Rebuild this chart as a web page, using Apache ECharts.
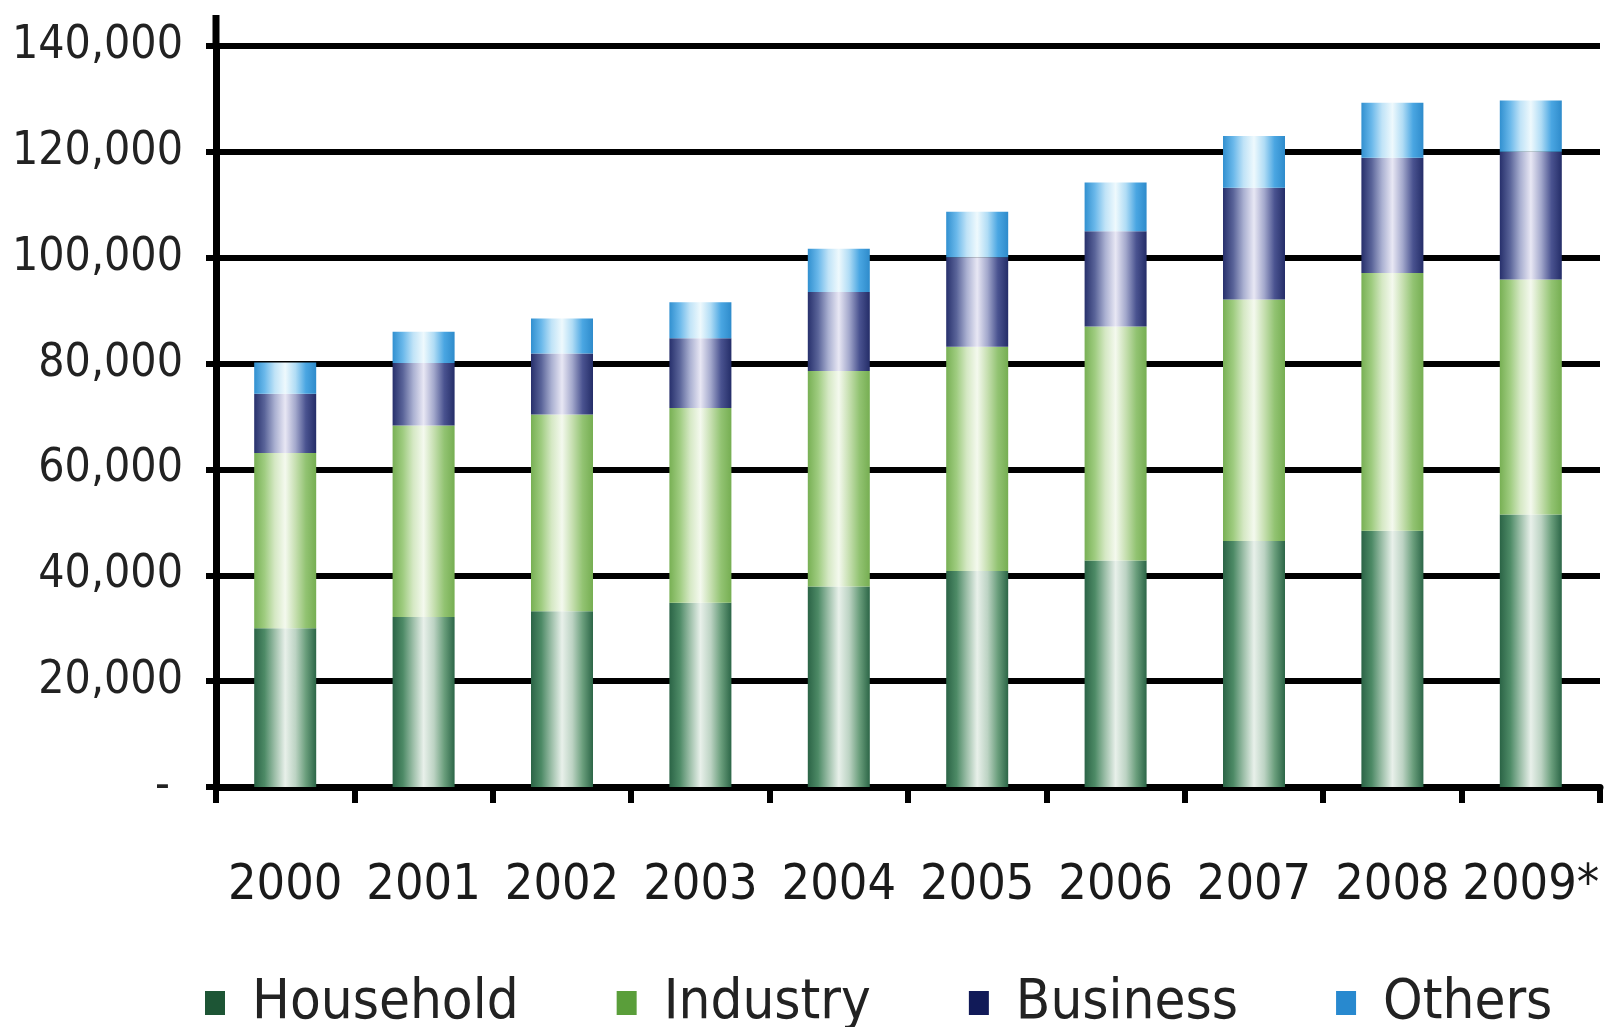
<!DOCTYPE html>
<html>
<head>
<meta charset="utf-8">
<script src="https://cdn.jsdelivr.net/npm/echarts@6/dist/echarts.min.js"></script>
<style>
  html, body { margin: 0; padding: 0; background: #fff; }
  #main { width: 1612px; height: 1027px; }
</style>
</head>
<body>
<div id="main"></div>
<script>
// data
var years = ['2000', '2001', '2002', '2003', '2004', '2005', '2006', '2007', '2008', '2009*'];
var household = [30000, 32100, 33200, 34800, 37900, 40800, 42800, 46500, 48400, 51500];
var industry = [33100, 36200, 37200, 36800, 40700, 42400, 44200, 45600, 48700, 44400];
var business = [11200, 11800, 11500, 13200, 14900, 16900, 18000, 21100, 21800, 24100];
var others = [5900, 5900, 6600, 6800, 8200, 8600, 9200, 9800, 10400, 9700];
var seriesNames = ['Household', 'Industry', 'Business', 'Others'];

var font = "'DejaVu Sans Condensed', 'Noto Sans', sans-serif";
var gridLeft = 216;

// cylinder-ish shading: dark edges, pale middle
function shade(stops) {
  return new echarts.graphic.LinearGradient(0, 0, 1, 0, stops.map(function (c, i) {
    return { offset: i / (stops.length - 1), color: c };
  }));
}
var fills = [
  shade(['#2b6446', '#4d8a66', '#9dbfa9', '#e8f0ea', '#bcd3c3', '#6a9e7c', '#2c6647']),
  shade(['#78b054', '#9fcc80', '#d5e8c4', '#f4f9ee', '#c6dfb0', '#92c372', '#76ae52']),
  shade(['#27306c', '#5a6499', '#aab0d1', '#e8e7f4', '#a3a8cc', '#4a5390', '#242d68']),
  shade(['#3190d0', '#6ab8ea', '#c0e3f7', '#eef9fd', '#b0dcf5', '#4aa6e2', '#2e8bcb'])
];
var legendColors = ['#1d5535', '#5a9e3a', '#111a58', '#2889cf'];

var myChart = echarts.init(document.getElementById('main'));
var option = {
  animation: false,
  backgroundColor: '#fff',
  grid: { left: gridLeft, right: 12, top: 46, bottom: 240, containLabel: false },
  legend: {
    top: 970,
    left: 200,
    itemWidth: 20,
    itemHeight: 24,
    itemGap: 98,
    icon: 'rect',
    textStyle: { fontFamily: font, fontSize: 56, color: '#222', padding: [0, 0, 0, 22] },
    data: seriesNames.map(function (n, i) {
      return { name: n, itemStyle: { color: legendColors[i] } };
    })
  },
  xAxis: {
    type: 'category',
    data: years,
    axisLine: { lineStyle: { color: '#000', width: 7 } },
    axisTick: { show: true, interval: 0, length: 16, lineStyle: { color: '#000', width: 6 } },
    axisLabel: { interval: 0, fontFamily: font, fontSize: 50, color: '#1a1a1a', margin: 74 }
  },
  yAxis: {
    type: 'value',
    min: 0,
    max: 140000,
    interval: 20000,
    axisLine: { show: true, lineStyle: { color: '#000', width: 7 } },
    axisTick: { show: true, length: 10, lineStyle: { color: '#000', width: 6 } },
    splitLine: { lineStyle: { color: '#000', width: 6 } },
    axisLabel: {
      fontFamily: font,
      fontSize: 46,
      color: '#222',
      margin: 33,
      formatter: function (v) {
        return v === 0 ? '- ' : v.toLocaleString('en-US');
      }
    }
  },
  series: [household, industry, business, others].map(function (vals, i) {
    return {
      name: seriesNames[i],
      type: 'bar',
      stack: 'total',
      barWidth: 62,
      itemStyle: { color: fills[i] },
      data: vals
    };
  })
};
myChart.setOption(option);

// the y axis line runs a little above the top gridline
var topY = myChart.convertToPixel({ yAxisIndex: 0 }, 140000);
myChart.setOption({
  graphic: [{
    type: 'line',
    shape: { x1: gridLeft, y1: topY + 3, x2: gridLeft, y2: topY - 31 },
    style: { stroke: '#000', lineWidth: 7 }
  }]
});
</script>
</body>
</html>
